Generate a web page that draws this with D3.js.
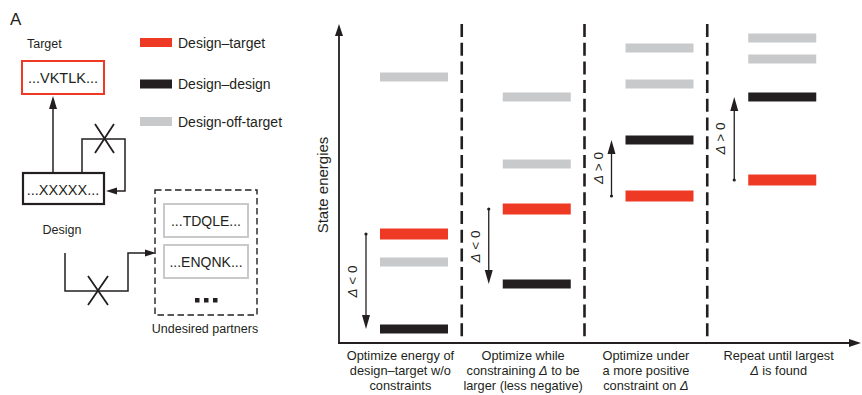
<!DOCTYPE html>
<html>
<head>
<meta charset="utf-8">
<script src="https://cdn.jsdelivr.net/npm/d3@7"></script>
<style>
  html, body { margin: 0; padding: 0; background: #fff; }
  svg { display: block; font-family: "Liberation Sans", Arial, Helvetica, sans-serif; }
</style>
</head>
<body>
<svg id="chart" width="862" height="395"></svg>
<script>
// ---------- data ----------
const panelLabels = [
  ["Optimize energy of", "design–target w/o", "constraints"],
  ["Optimize while", "constraining Δ to be", "larger (less negative)"],
  ["Optimize under", "a more positive", "constraint on Δ"],
  ["Repeat until largest", "Δ is found"]
];
const targetEnergy = [109, 134, 147, 163];        // design–target state energy
const designEnergy = [14, 59, 203, 246];          // design–design state energy
const offTargetEnergyA = [266, 246, 295, 305];    // design–off-target (upper)
const offTargetEnergyB = [81, 179, 259, 284];     // design–off-target (lower)
const deltaLabels = ["Δ < 0", "Δ < 0", "Δ > 0", "Δ > 0"];
const legendLabels = ["Design–target", "Design–design", "Design-off-target"];
const legendColors = ["#ee3a25", "#231f20", "#c8c9cb"];
const partnerSeqs = ["...TDQLE...", "...ENQNK..."];

// ---------- setup ----------
const RED = "#ee3a25", BLACK = "#231f20", GRAY = "#c8c9cb", INK = "#231f20";
const svg = d3.select("#chart");
svg.append("rect").attr("width", 862).attr("height", 395).attr("fill", "#fff");

function arrowHead(g, tipX, tipY, dir, len, wid, color) {
  let pts;
  const h = wid / 2;
  if (dir === "up") pts = [[tipX, tipY], [tipX - h, tipY + len], [tipX + h, tipY + len]];
  if (dir === "down") pts = [[tipX, tipY], [tipX - h, tipY - len], [tipX + h, tipY - len]];
  if (dir === "left") pts = [[tipX, tipY], [tipX + len, tipY - h], [tipX + len, tipY + h]];
  if (dir === "right") pts = [[tipX, tipY], [tipX - len, tipY - h], [tipX - len, tipY + h]];
  g.append("polygon").attr("points", pts.map(p => p.join(",")).join(" ")).attr("fill", color || INK);
}

// ---------- left diagram ----------
const L = svg.append("g");
L.append("text").attr("x", 10).attr("y", 25).attr("font-size", 17).attr("fill", INK).text("A");
L.append("text").attr("x", 27).attr("y", 48).attr("font-size", 12.5).attr("fill", INK).text("Target");

L.append("rect").attr("x", 22).attr("y", 61).attr("width", 82).attr("height", 33)
  .attr("fill", "none").attr("stroke", RED).attr("stroke-width", 2);
L.append("text").attr("x", 63).attr("y", 83).attr("text-anchor", "middle").attr("font-size", 14.5)
  .attr("fill", INK).text("...VKTLK...");

// arrow design -> target
L.append("line").attr("x1", 53).attr("y1", 173).attr("x2", 53).attr("y2", 106)
  .attr("stroke", INK).attr("stroke-width", 1.5);
arrowHead(L, 53, 96, "up", 13, 8);

// self loop with X
L.append("polyline").attr("points", "82,173 82,139 125,139 125,191 116,191")
  .attr("fill", "none").attr("stroke", INK).attr("stroke-width", 1.5);
arrowHead(L, 106, 191, "left", 11, 7);
L.append("path").attr("d", "M95,124 L114,153 M95,153 L114,124")
  .attr("stroke", INK).attr("stroke-width", 1.8).attr("fill", "none");

L.append("rect").attr("x", 23).attr("y", 173).attr("width", 81).attr("height", 31)
  .attr("fill", "none").attr("stroke", INK).attr("stroke-width", 2.2);
L.append("text").attr("x", 63).attr("y", 195).attr("text-anchor", "middle").attr("font-size", 14.5)
  .attr("fill", INK).text("...XXXXX...");
L.append("text").attr("x", 62).attr("y", 234).attr("text-anchor", "middle").attr("font-size", 12.5)
  .attr("fill", INK).text("Design");

// path to undesired partners with X
L.append("polyline").attr("points", "65,253 65,291 128,291 128,253 146,253")
  .attr("fill", "none").attr("stroke", INK).attr("stroke-width", 1.5);
arrowHead(L, 156, 253, "right", 11, 7);
L.append("path").attr("d", "M88,276 L108,305 M88,305 L108,276")
  .attr("stroke", INK).attr("stroke-width", 1.8).attr("fill", "none");

L.append("rect").attr("x", 155).attr("y", 190).attr("width", 102).attr("height", 125)
  .attr("fill", "none").attr("stroke", INK).attr("stroke-width", 1.4).attr("stroke-dasharray", "6.5,3.5");
partnerSeqs.forEach((s, i) => {
  const y0 = 204 + i * 41;
  L.append("rect").attr("x", 164).attr("y", y0).attr("width", 84).attr("height", 33)
    .attr("fill", "none").attr("stroke", GRAY).attr("stroke-width", 2);
  L.append("text").attr("x", 206).attr("y", y0 + 22).attr("text-anchor", "middle").attr("font-size", 14)
    .attr("fill", INK).text(s);
});
[195, 204, 213].forEach(x => L.append("rect").attr("x", x).attr("y", 298).attr("width", 4.5).attr("height", 4.5).attr("fill", INK));
L.append("text").attr("x", 205).attr("y", 333).attr("text-anchor", "middle").attr("font-size", 12.5)
  .attr("fill", INK).text("Undesired partners");

// legend
const leg = svg.append("g");
const legY = [42.5, 84, 121.5];
legendLabels.forEach((lab, i) => {
  leg.append("rect").attr("x", 140).attr("y", legY[i] - 4.5).attr("width", 32).attr("height", 9).attr("fill", legendColors[i]);
  leg.append("text").attr("x", 178).attr("y", legY[i] + 5).attr("font-size", 14).attr("fill", INK).text(lab);
});

// ---------- main chart ----------
const axisX = 339, axisY = 343, axisTop = 24, axisRight = 861;
const idx = d3.range(panelLabels.length);
const x = d3.scaleBand().domain(idx).range([339, 830]).paddingInner(0).paddingOuter(0);
const y = d3.scaleLinear().domain([0, 318]).range([343, 25]);

const M = svg.append("g");

// dividers
idx.slice(1).forEach(i => {
  M.append("line").attr("x1", x(i)).attr("x2", x(i)).attr("y1", 24).attr("y2", axisY)
    .attr("stroke", INK).attr("stroke-width", 2.6).attr("stroke-dasharray", "13,5.7");
});

// axes
M.append("line").attr("x1", axisX).attr("x2", axisX).attr("y1", axisY + 1).attr("y2", axisTop + 10)
  .attr("stroke", INK).attr("stroke-width", 1.8);
arrowHead(M, axisX, axisTop, "up", 12, 8);
M.append("line").attr("x1", axisX - 1).attr("x2", axisRight - 10).attr("y1", axisY).attr("y2", axisY)
  .attr("stroke", INK).attr("stroke-width", 1.8);
arrowHead(M, axisRight, axisY, "right", 12, 8);

M.append("text").attr("transform", `translate(328,185) rotate(-90)`).attr("text-anchor", "middle")
  .attr("font-size", 15).attr("fill", INK).text("State energies");

// bars
const barW = 68, barOff = 41;
function bars(vals, color, h) {
  M.selectAll(null).data(vals).enter().append("rect")
    .attr("x", (d, i) => x(i) + barOff).attr("width", barW)
    .attr("y", d => y(d) - h / 2).attr("height", h).attr("fill", color);
}
bars(offTargetEnergyA, GRAY, 9);
bars(offTargetEnergyB, GRAY, 9);
bars(designEnergy, BLACK, 9);
bars(targetEnergy, RED, 11);

// delta arrows
idx.forEach(i => {
  const ax = x(i) + 27;
  const y0 = y(targetEnergy[i]), y1 = y(designEnergy[i]);
  const dir = y1 > y0 ? "down" : "up";
  const sgn = y1 > y0 ? 1 : -1;
  M.append("line").attr("x1", ax).attr("x2", ax).attr("y1", y0).attr("y2", y1 - sgn * 10)
    .attr("stroke", INK).attr("stroke-width", 1.3);
  M.append("circle").attr("cx", ax).attr("cy", y0).attr("r", 1.6).attr("fill", INK);
  arrowHead(M, ax, y1, dir, 14, 8);
  const t = M.append("text").attr("transform", `translate(${ax - 9},${(y0 + y1) / 2}) rotate(-90)`)
    .attr("text-anchor", "middle").attr("font-size", 13.5).attr("fill", INK);
  const parts = deltaLabels[i].split("Δ");
  t.append("tspan").attr("font-style", "italic").text("Δ");
  t.append("tspan").text(parts[1]);
});

// panel labels
idx.forEach(i => {
  const start = x(i);
  const end = i < idx.length - 1 ? x(i + 1) : 850;
  const cx = (start + end) / 2;
  const t = M.append("text").attr("text-anchor", "middle").attr("font-size", 12.8).attr("fill", INK);
  panelLabels[i].forEach((line, j) => {
    const ts = t.append("tspan").attr("x", cx).attr("y", 360 + j * 15.2);
    const parts = line.split("Δ");
    parts.forEach((p, k) => {
      if (k > 0) ts.append("tspan").attr("font-style", "italic").text("Δ");
      if (p) ts.append("tspan").text(p);
    });
  });
});
</script>
</body>
</html>
